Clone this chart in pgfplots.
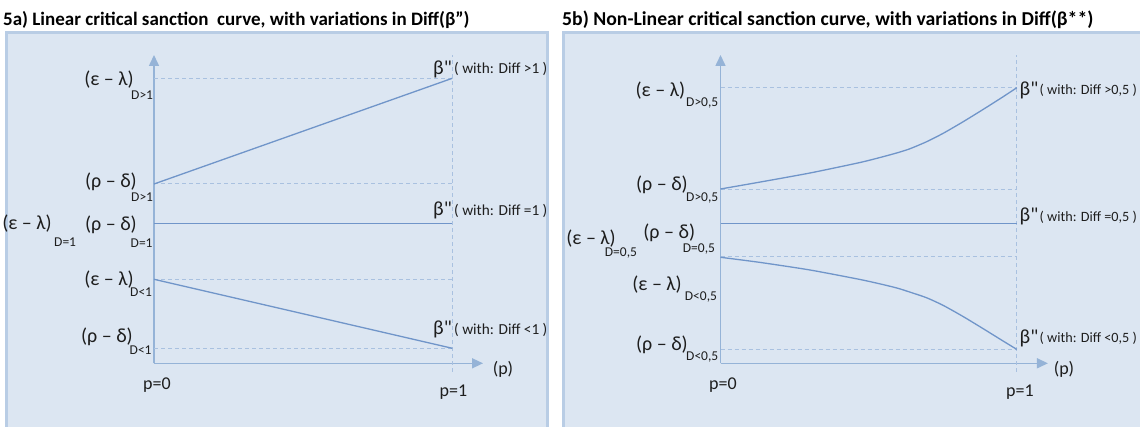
\documentclass[border=0pt]{standalone}
\usepackage{fontspec}
\setmainfont{Carlito}[Ligatures=TeXOff]
\usepackage{pgfplots}
\pgfplotsset{compat=1.18}
\usetikzlibrary{arrows.meta}
\definecolor{bgc}{HTML}{DCE6F2}
\definecolor{brd}{HTML}{B9CDE5}
\definecolor{axc}{HTML}{95B3D7}
\definecolor{lnc}{HTML}{7095C9}
\definecolor{dsh}{HTML}{A9C1E0}
\definecolor{txt}{HTML}{1E1E1E}
\newcommand\fA{\fontsize{20}{22}\selectfont}
\newcommand\fS{\fontsize{13.5}{15}\selectfont}
\newcommand\fW{\fontsize{15.3}{17}\selectfont}
\newcommand\fWB{\fontsize{14.2}{16}\selectfont}
\newcommand\fP{\fontsize{18}{20}\selectfont}
\newcommand\fT{\fontsize{19}{21}\selectfont\bfseries}
\newcommand\fTB{\fontsize{19.7}{21}\selectfont\bfseries}
\newcommand\EL{(ε – λ)}
\newcommand\RD{(ρ – δ)}
\pgfplotsset{
  panel/.style={
    anchor=origin, clip=false, disabledatascaling,
    y=1pt, xmin=0, ymin=0, ymax=308.3,
    axis lines=left, ticks=none,
    axis line style={axc, line width=1.5pt, -{Triangle[width=10pt,length=11pt]}},
  },
  dl/.style={dsh, line width=1pt, dash pattern=on 4pt off 3pt, forget plot},
  cl/.style={lnc, line width=1.3pt, forget plot},
}
\begin{document}
\begin{tikzpicture}[x=1pt,y=1pt]
\useasboundingbox (0,0) rectangle (1140,427);
% panel boxes
\fill[bgc] (6,-10) rectangle (547.5,394);
\draw[brd, line width=3pt] (6,-10) rectangle (547.5,394);
\fill[bgc] (563.3,-10) rectangle (1160,394);
\draw[brd, line width=3pt] (563.3,-10) rectangle (1160,394);

% ---------- panel A ----------
\begin{axis}[panel, at={(154pt,63.7pt)}, x=298.3pt, xmax=1.103]
\addplot[dl] coordinates {(0,285) (1,285)};
\addplot[dl] coordinates {(0,179.3) (1,179.3)};
\addplot[dl] coordinates {(0,84) (1,84)};
\addplot[dl] coordinates {(0,15) (1,15)};
\addplot[dl] coordinates {(1,-8.4) (1,308.3)};
\addplot[cl] coordinates {(0,179.3) (1,285)};
\addplot[cl] coordinates {(0,140) (1,140)};
\addplot[cl] coordinates {(0,84) (1,15)};
\end{axis}

% ---------- panel B ----------
\begin{axis}[panel, at={(720.5pt,63.7pt)}, x=296.3pt, xmax=1.105]
\addplot[dl] coordinates {(0,275.6) (1,275.6)};
\addplot[dl] coordinates {(0,173.5) (1,173.5)};
\addplot[dl] coordinates {(0,106.3) (1,106.3)};
\addplot[dl] coordinates {(0,14) (1,14)};
\addplot[dl] coordinates {(1,-8.4) (1,308.3)};
\addplot[cl, smooth, tension=0.4] coordinates {(0,174.3) (0.133,181.2) (0.302,190.3) (0.471,200.8) (0.55,206.7) (0.6,210.8) (0.639,214.5) (0.695,221.5) (0.751,229.9) (0.818,241.4) (0.886,253.8) (0.953,266.4) (1,275.6)};
\addplot[cl] coordinates {(0,140) (1,140)};
\addplot[cl, smooth, tension=0.4] coordinates {(0,106) (0.133,100.9) (0.302,93.3) (0.471,83.8) (0.55,78.6) (0.6,74.9) (0.639,71.2) (0.695,65.6) (0.751,58) (0.818,46.9) (0.886,34.7) (0.953,22.4) (1,13.9)};
\end{axis}

% ---------- texts (pixel coordinates, y from top) ----------
\begin{scope}[y=-1pt, shift={(0pt,427pt)}, every node/.style={inner sep=0pt, text=txt}]
\node[anchor=west, text=black] at (3,20) {\fT 5a) Linear critical sanction\ \ curve, with variations in Diff(β”)};
\node[anchor=west, text=black] at (562,20) {\fTB 5b) Non-Linear critical sanction curve, with variations in Diff(β**)};
% panel A left labels
\node[anchor=east] at (134,80) {\fA\EL};      \node[anchor=west] at (131,95) {\fS D>1};
\node[anchor=east] at (137,181.7) {\fA\RD};   \node[anchor=west] at (131,196.7) {\fS D>1};
\node[anchor=east] at (52,223.3) {\fA\EL};    \node[anchor=west] at (54,242) {\fS D=1};
\node[anchor=east] at (137,225) {\fA\RD};     \node[anchor=west] at (130.5,243) {\fS D=1};
\node[anchor=east] at (134,279.3) {\fA\EL};   \node[anchor=west] at (130,291.7) {\fS D<1};
\node[anchor=east] at (133,336.7) {\fA\RD};   \node[anchor=west] at (129.5,350) {\fS D<1};
\node at (157,385) {\fP p=0};
\node at (453.5,391.7) {\fP p=1};
\node at (503,369.3) {\fP (p)};
\node[anchor=east] at (452,69) {\fA β"};     \node[anchor=west] at (454,69.3) {\fW ( with: Diff >1 )};
\node[anchor=east] at (452,210) {\fA β"};    \node[anchor=west] at (454,210.5) {\fW ( with: Diff =1 )};
\node[anchor=east] at (452,329.3) {\fA β"};  \node[anchor=west] at (454,329.5) {\fW ( with: Diff <1 )};
% panel B left labels
\node[anchor=east] at (685.3,90.7) {\fA\EL};  \node[anchor=west] at (686,103.3) {\fS D>0,5};
\node[anchor=east] at (688,185) {\fA\RD};     \node[anchor=west] at (686,198.3) {\fS D>0,5};
\node[anchor=east] at (616,238.3) {\fA\EL};   \node[anchor=west] at (604.7,252.7) {\fS D=0,5};
\node[anchor=east] at (695.3,233.3) {\fA\RD}; \node[anchor=west] at (682.7,249.3) {\fS D=0,5};
\node[anchor=east] at (682,285) {\fA\EL};     \node[anchor=west] at (684.7,296.7) {\fS D<0,5};
\node[anchor=east] at (688,345) {\fA\RD};     \node[anchor=west] at (686,356.7) {\fS D<0,5};
\node at (723,385) {\fP p=0};
\node at (1020,391.7) {\fP p=1};
\node at (1064,369.3) {\fP (p)};
\node[anchor=west] at (1019.5,90) {\fA β"};    \node[anchor=west] at (1039.5,90.5) {\fWB ( with: Diff >0,5 )};
\node[anchor=west] at (1019.5,216.7) {\fA β"}; \node[anchor=west] at (1039.5,217) {\fWB ( with: Diff =0,5 )};
\node[anchor=west] at (1019.5,338.3) {\fA β"}; \node[anchor=west] at (1039.5,338.5) {\fWB ( with: Diff <0,5 )};
\end{scope}
\end{tikzpicture}
\end{document}
